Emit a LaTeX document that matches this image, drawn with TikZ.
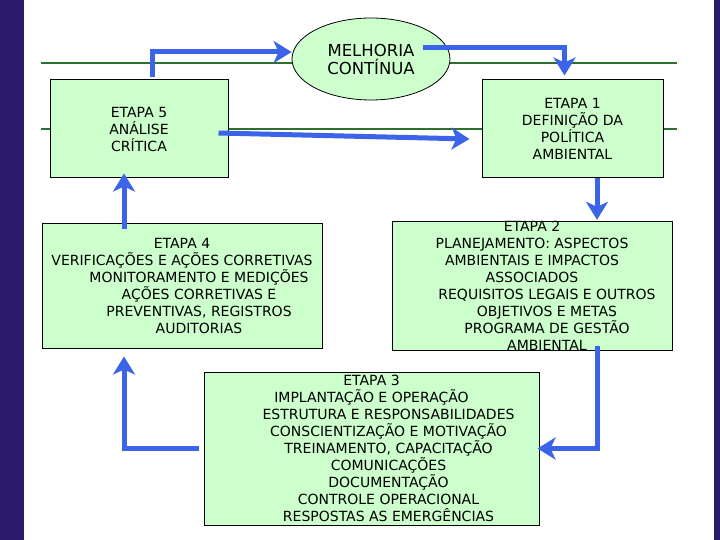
\documentclass[tikz,border=0pt]{standalone}
\usepackage{fontspec}
\setmainfont{DejaVu Sans}
\usetikzlibrary{arrows.meta,shapes.geometric}
\definecolor{barblue}{RGB}{43,26,108}
\definecolor{boxgreen}{RGB}{204,255,204}
\definecolor{linegreen}{RGB}{46,110,48}
\definecolor{arrowblue}{RGB}{60,100,232}
\tikzset{
  stagebox/.style={draw=black, line width=1pt, fill=boxgreen, rectangle, inner sep=0pt,
    align=center, font=\fontsize{14}{17}\selectfont},
  cloud/.style={ellipse, draw=black, line width=0.8pt, fill=boxgreen, inner sep=0pt,
    minimum width=158pt, minimum height=82pt, align=center, font=\fontsize{16.5}{18}\selectfont},
  guide/.style={draw=linegreen, line width=2.2pt},
  arr/.style={draw=arrowblue, line width=5pt, line join=miter,
    -{Stealth[length=18pt,width=22pt,inset=5pt]}},
}
\begin{document}
\begin{tikzpicture}[x=1pt,y=-1pt]
\useasboundingbox (0,0) rectangle (720,540);
\fill[white] (0,0) rectangle (720,540);
\fill[barblue] (0,0) rectangle (24,540);
\fill[barblue] (714,0) rectangle (720,540);
% green guide lines
\draw[guide] (41,63) -- (677,63);
\draw[guide] (41,129) -- (677,129);
% nodes
\node[cloud] (mc) at (371,59) {MELHORIA\\CONTÍNUA};
\node[stagebox, minimum width=178pt, minimum height=98pt] (e5) at (139,129)
  {ETAPA 5\\ANÁLISE\\CRÍTICA};
\node[stagebox, minimum width=181pt, minimum height=98pt] (e1) at (572.5,129)
  {ETAPA 1\\DEFINIÇÃO DA\\POLÍTICA\\AMBIENTAL};
\node[stagebox, minimum width=280pt, minimum height=124pt] (e4) at (182,286)
  {ETAPA 4\\VERIFICAÇÕES E AÇÕES CORRETIVAS\\
   \hspace*{34pt}MONITORAMENTO E MEDIÇÕES\\
   \hspace*{34pt}AÇÕES CORRETIVAS E\\
   \hspace*{34pt}PREVENTIVAS, REGISTROS\\
   \hspace*{34pt}AUDITORIAS};
\node[stagebox, minimum width=280pt, minimum height=124pt] (e2) at (532,286)
  {ETAPA 2\\PLANEJAMENTO: ASPECTOS\\AMBIENTAIS E IMPACTOS\\ASSOCIADOS\\
   \hspace*{30pt}REQUISITOS LEGAIS E OUTROS\\
   \hspace*{30pt}OBJETIVOS E METAS\\
   \hspace*{30pt}PROGRAMA DE GESTÃO\\
   \hspace*{30pt}AMBIENTAL};
\node[stagebox, minimum width=335pt, minimum height=153pt] (e3) at (371.5,448.5)
  {ETAPA 3\\IMPLANTAÇÃO E OPERAÇÃO\\
   \hspace*{34pt}ESTRUTURA E RESPONSABILIDADES\\
   \hspace*{34pt}CONSCIENTIZAÇÃO E MOTIVAÇÃO\\
   \hspace*{34pt}TREINAMENTO, CAPACITAÇÃO\\
   \hspace*{34pt}COMUNICAÇÕES\\
   \hspace*{34pt}DOCUMENTAÇÃO\\
   \hspace*{34pt}CONTROLE OPERACIONAL\\
   \hspace*{34pt}RESPOSTAS AS EMERGÊNCIAS};
% connectors
\draw[arr] ([xshift=13pt,yshift=2pt]e5.north) |- ([yshift=7pt]mc.west);
\draw[arr] ([xshift=52pt,yshift=11pt]mc.center) -| ([xshift=-8pt,yshift=4pt]e1.north);
\draw[arr] ([xshift=-10pt,yshift=-4pt]e5.east) -- ([xshift=-12pt,yshift=-10pt]e1.west);
\draw[arr] ([xshift=24.5pt]e1.south) -- ([xshift=24.5pt,yshift=1pt]e1.south |- e2.north);
\draw[arr] ([xshift=65pt,yshift=5pt]e2.south) |- ([xshift=-2pt]e3.east);
\draw[arr] ([xshift=-5pt]e3.west) -| ([xshift=-58pt,yshift=-8pt]e4.south);
\draw[arr] ([xshift=-58pt,yshift=-6pt]e4.north) -- ([xshift=-15pt,yshift=5pt]e5.south);
\end{tikzpicture}
\end{document}
